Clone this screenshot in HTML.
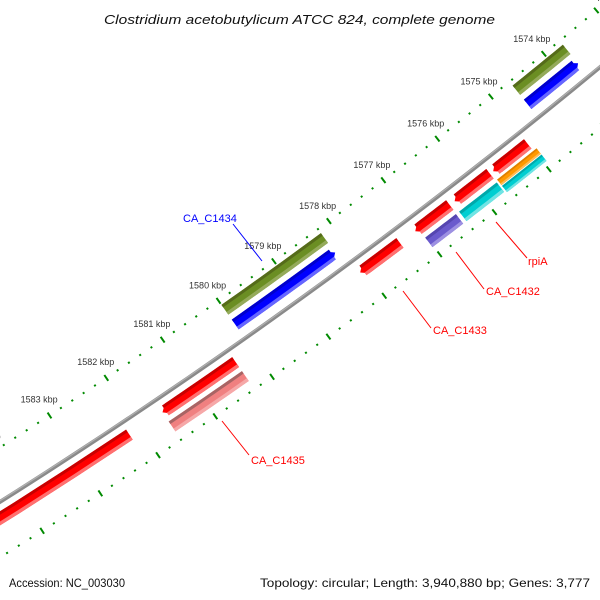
<!DOCTYPE html>
<html><head><meta charset="utf-8"><style>
html,body{margin:0;padding:0;background:#fff;width:600px;height:600px;overflow:hidden;}
svg{display:block;font-family:"Liberation Sans","DejaVu Sans",sans-serif;}
</style></head><body>
<svg id="map" width="600" height="600" viewBox="0 0 600 600" xmlns="http://www.w3.org/2000/svg">
<rect x="0" y="0" width="600" height="600" fill="#fff"/>
<g id="ticks"></g>
<g id="feats"></g>
<g id="backbone"></g>
<g id="labels"></g>
<g font-size="11">
 <line x1="233" y1="224" x2="262" y2="261" stroke="#0000ff" stroke-width="1"/>
 <text x="183" y="222" fill="#0000ff">CA_C1434</text>
 <line x1="496" y1="222" x2="527" y2="258" stroke="#ff0000" stroke-width="1"/>
 <text x="528" y="265" fill="#ff0000">rpiA</text>
 <line x1="456" y1="252" x2="484" y2="289" stroke="#ff0000" stroke-width="1"/>
 <text x="486" y="295" fill="#ff0000">CA_C1432</text>
 <line x1="403" y1="291" x2="431" y2="328" stroke="#ff0000" stroke-width="1"/>
 <text x="433" y="334" fill="#ff0000">CA_C1433</text>
 <line x1="222" y1="421" x2="249" y2="455" stroke="#ff0000" stroke-width="1"/>
 <text x="251" y="464" fill="#ff0000">CA_C1435</text>
</g>
<text x="104" y="24" textLength="391" lengthAdjust="spacingAndGlyphs" font-size="13" font-style="italic" fill="#111">Clostridium acetobutylicum ATCC 824, complete genome</text>
<text x="9" y="587" textLength="116" lengthAdjust="spacingAndGlyphs" font-size="12" fill="#111">Accession: NC_003030</text>
<text x="260" y="587" textLength="330" lengthAdjust="spacingAndGlyphs" font-size="12" fill="#111">Topology: circular; Length: 3,940,880 bp; Genes: 3,777</text>
</svg>
<script>
// ---- data ----
const tickStartKbp = 1570;
const tickEndKbp = 1590;
const featStart = [1578.2, 1573.7, 1578.2, 1573.7, 1582.18, 1580.31, 1577.36, 1576.45, 1575.71, 1575.01, 1566.0, 1580.31, 1576.46, 1575.71, 1574.95, 1574.95];
const featEnd   = [1580.0, 1574.65, 1580.0, 1574.65, 1592.0, 1581.6, 1578.08, 1577.08, 1576.36, 1575.65, 1573.55, 1581.6, 1577.02, 1576.40, 1575.68, 1575.68];
const featRow   = ["olive","olive","blue","blue","red","red","red","red","red","red","red","row2","row2","row2","row2a","row2b"];
const featColor = ["olive","olive","blue","blue","red","red","red","red","red","red","red","pink","purple","cyan","orange","cyan"];
const featArrow = [0,0,-1,-1,0,1,1,1,1,1,1,0,0,0,0,0];
const featName  = ["ca-c1434-cds","feature-1574-cds","ca-c1434-gene","feature-1574-gene","feature-1582","ca-c1435-gene","ca-c1433-gene","ca-c1432-gene","rpia-gene","feature-1575","feature-1573","ca-c1435-cds","ca-c1432-cds","rpia-cds","feature-1575-orange","feature-1575-cyan"];

// ---- geometry ----
const CX = -3095.8, CY = -4402.8;
const A0 = 54.83, DEG_PER_KBP = 0.678;
function ang(k){ return (A0 + (k - 1580) * DEG_PER_KBP) * Math.PI / 180; }
function pt(k, r){ const a = ang(k); return [CX + r * Math.cos(a), CY + r * Math.sin(a)]; }
const rows = { olive:[5759,5771], blue:[5777,5789], red:[5808,5820], row2:[5825,5837], row2a:[5823,5830], row2b:[5831,5839] };
const palette = {
  olive:["#556b1a","#6b8e23","#94aa5a"],
  blue:["#0000cc","#0000ff","#6666ff"],
  red:["#c80000","#ff0000","#ff7070"],
  pink:["#a86464","#f08080","#f6a8a8"],
  purple:["#5546b0","#6a5acd","#9d90e2"],
  cyan:["#00a8aa","#00ced1","#70e4e4"],
  orange:["#e08000","#ff9900","#ffbb55"]
};
const NS = "http://www.w3.org/2000/svg";
function arcPts(k1, k2, r, n){ const out=[]; for(let i=0;i<=n;i++){ out.push(pt(k1+(k2-k1)*i/n, r)); } return out; }
function bandPath(k1, k2, r1, r2, arrow){
  const head = 0.1, n = 10;
  let a = k1, b = k2;
  if (arrow === 1) b = k2 - head;
  if (arrow === -1) a = k1 + head;
  if (b < a) { b = a; }
  let p = arcPts(a, b, r1, n);
  if (arrow === 1) p.push(pt(k2, (r1 + r2) / 2));
  p = p.concat(arcPts(b, a, r2, n));
  if (arrow === -1) p.push(pt(k1, (r1 + r2) / 2));
  return "M" + p.map(q => q[0].toFixed(2) + "," + q[1].toFixed(2)).join("L") + "Z";
}

// ---- ticks ----
const tg = document.getElementById("ticks");
const rowsT = [5754, 5847];
for (let i = Math.round(tickStartKbp * 5); i <= Math.round(tickEndKbp * 5); i++) {
  const k = i / 5, major = (i % 5 === 0);
  for (const r of rowsT) {
    const p1 = pt(k, major ? r - 3.5 : r - 1), p2 = pt(k, major ? r + 3.5 : r + 1);
    const l = document.createElementNS(NS, "line");
    
    
    l.setAttribute("x1", p1[0]); l.setAttribute("y1", p1[1]);
    l.setAttribute("x2", p2[0]); l.setAttribute("y2", p2[1]);
    l.setAttribute("stroke", "#008a00"); l.setAttribute("stroke-width", 2);
    tg.appendChild(l);
  }
}
// ---- tick labels ----
const lg = document.getElementById("labels");
for (let k = Math.ceil(tickStartKbp); k <= tickEndKbp; k++) {
  const p = pt(k, 5735);
  const t = document.createElementNS(NS, "text");
  
  
  t.setAttribute("x", p[0]); t.setAttribute("y", p[1] + 3);
  t.setAttribute("text-anchor", "middle"); t.setAttribute("font-size", "9");
  t.setAttribute("fill", "#333");
  t.textContent = k + " kbp";
  lg.appendChild(t);
}
// ---- backbone ----
const bg = document.getElementById("backbone");
[[5800, 4, "#8a8a8a"], [5799, 1.2, "#b0b0b0"]].forEach(s => {
  const p = arcPts(1565, 1595, s[0], 60);
  const path = document.createElementNS(NS, "path");
  
  
  path.setAttribute("d", "M" + p.map(q => q[0].toFixed(2) + "," + q[1].toFixed(2)).join("L"));
  path.setAttribute("fill", "none"); path.setAttribute("stroke", s[2]); path.setAttribute("stroke-width", s[1]);
  bg.appendChild(path);
});
// ---- features ----
const fg = document.getElementById("feats");
for (let i = 0; i < featStart.length; i++) {
  const rr = rows[featRow[i]], col = palette[featColor[i]];
  const g = document.createElementNS(NS, "g");
  
  
  const r1 = rr[0], r2 = rr[1], w = r2 - r1;
  const main = document.createElementNS(NS, "path");
  
  
  main.setAttribute("d", bandPath(featStart[i], featEnd[i], r1, r2, featArrow[i]));
  main.setAttribute("fill", col[1]);
  g.appendChild(main);
  const top = document.createElementNS(NS, "path");
  
  
  top.setAttribute("d", bandPath(featStart[i] + (featArrow[i] === -1 ? 0.05 : 0), featEnd[i] - (featArrow[i] === 1 ? 0.05 : 0), r1, r1 + w * 0.25, 0));
  top.setAttribute("fill", col[0]);
  g.appendChild(top);
  const bot = document.createElementNS(NS, "path");
  
  
  bot.setAttribute("d", bandPath(featStart[i] + (featArrow[i] === -1 ? 0.05 : 0), featEnd[i] - (featArrow[i] === 1 ? 0.05 : 0), r2 - w * 0.28, r2, 0));
  bot.setAttribute("fill", col[2]);
  g.appendChild(bot);
  fg.appendChild(g);
}
</script>
</body></html>
